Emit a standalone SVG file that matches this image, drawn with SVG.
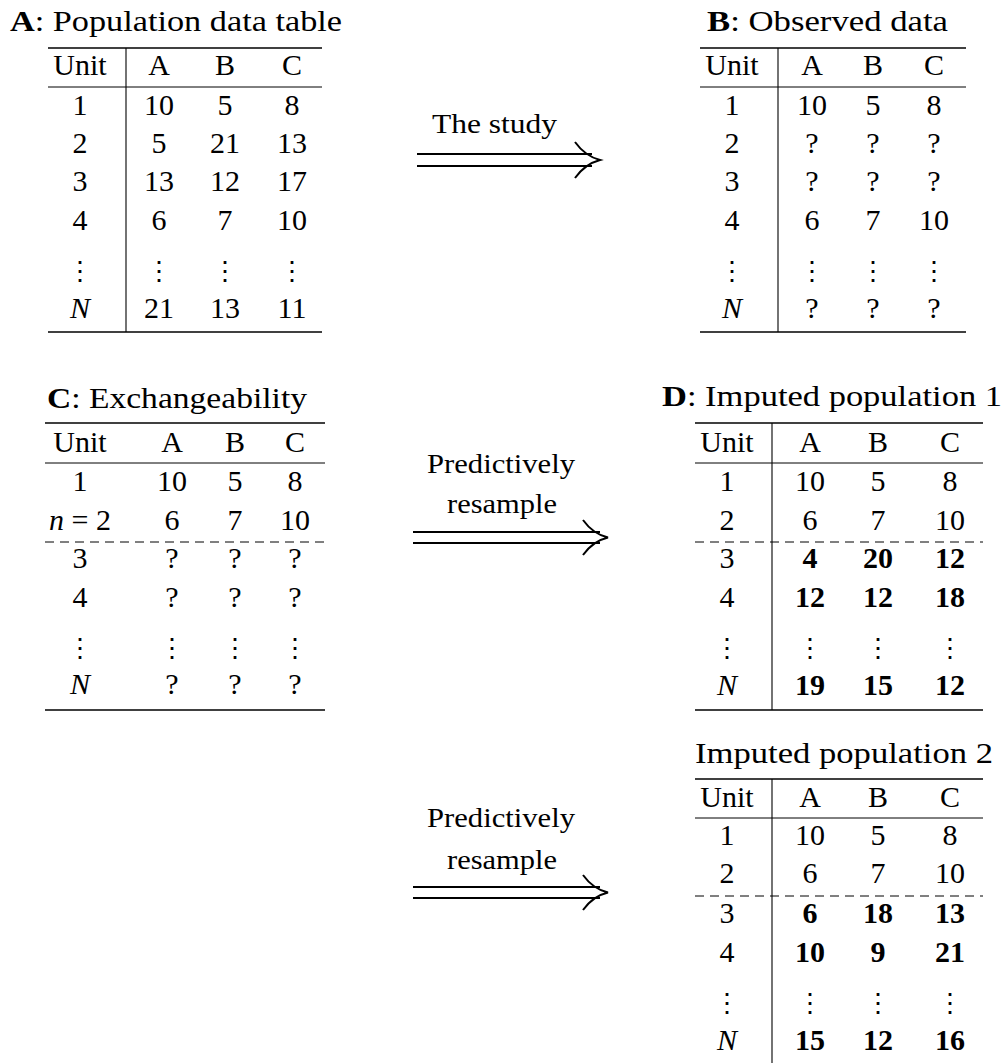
<svg xmlns="http://www.w3.org/2000/svg" width="1007" height="1063" viewBox="0 0 1007 1063">
<style>
text{font-family:"Liberation Serif","Times New Roman",serif;font-size:30px;fill:#000}
.c{text-anchor:middle}
.b{font-weight:bold}
.i{font-style:italic}
.lab{font-size:28px}
.dots{font-family:"DejaVu Serif",serif;font-size:26px}
.rule{stroke:#000;stroke-width:1.4;fill:none}
.mid{stroke:#000;stroke-width:1;fill:none}
.vl{stroke:#000;stroke-width:1.1;fill:none}
.dash{stroke:#000;stroke-width:1;stroke-dasharray:9 6;fill:none}
.arr{stroke:#000;stroke-width:2;fill:none}
</style>
<rect width="1007" height="1063" fill="#fff"/>

<g id="tableA">
<text x="10" y="31" textLength="332" lengthAdjust="spacingAndGlyphs"><tspan class="b">A</tspan>: Population data table</text>
<line class="rule" x1="48" y1="48" x2="322" y2="48"/>
<line class="mid" x1="48" y1="87" x2="322" y2="87"/>
<line class="rule" x1="48" y1="332" x2="322" y2="332"/>
<line class="vl" x1="126" y1="48" x2="126" y2="332"/>
<g class="c">
<text x="80" y="75" class="c">Unit</text><text x="159" y="75" class="c">A</text><text x="225" y="75" class="c">B</text><text x="292" y="75" class="c">C</text>
<text x="80" y="115" class="c">1</text><text x="159" y="115" class="c">10</text><text x="225" y="115" class="c">5</text><text x="292" y="115" class="c">8</text>
<text x="80" y="153" class="c">2</text><text x="159" y="153" class="c">5</text><text x="225" y="153" class="c">21</text><text x="292" y="153" class="c">13</text>
<text x="80" y="191" class="c">3</text><text x="159" y="191" class="c">13</text><text x="225" y="191" class="c">12</text><text x="292" y="191" class="c">17</text>
<text x="80" y="230" class="c">4</text><text x="159" y="230" class="c">6</text><text x="225" y="230" class="c">7</text><text x="292" y="230" class="c">10</text>
<text x="80" y="280" class="c dots">⋮</text><text x="159" y="280" class="c dots">⋮</text><text x="225" y="280" class="c dots">⋮</text><text x="292" y="280" class="c dots">⋮</text>
<text x="80" y="318" class="c i">N</text><text x="159" y="318" class="c">21</text><text x="225" y="318" class="c">13</text><text x="292" y="318" class="c">11</text>
</g>
</g>

<g id="tableB">
<text x="707" y="31" textLength="241" lengthAdjust="spacingAndGlyphs"><tspan class="b">B</tspan>: Observed data</text>
<line class="rule" x1="700" y1="48" x2="966" y2="48"/>
<line class="mid" x1="700" y1="87" x2="966" y2="87"/>
<line class="rule" x1="700" y1="332" x2="966" y2="332"/>
<line class="vl" x1="778" y1="48" x2="778" y2="332"/>
<text x="732" y="75" class="c">Unit</text><text x="812" y="75" class="c">A</text><text x="873" y="75" class="c">B</text><text x="934" y="75" class="c">C</text>
<text x="732" y="115" class="c">1</text><text x="812" y="115" class="c">10</text><text x="873" y="115" class="c">5</text><text x="934" y="115" class="c">8</text>
<text x="732" y="153" class="c">2</text><text x="812" y="153" class="c">?</text><text x="873" y="153" class="c">?</text><text x="934" y="153" class="c">?</text>
<text x="732" y="191" class="c">3</text><text x="812" y="191" class="c">?</text><text x="873" y="191" class="c">?</text><text x="934" y="191" class="c">?</text>
<text x="732" y="230" class="c">4</text><text x="812" y="230" class="c">6</text><text x="873" y="230" class="c">7</text><text x="934" y="230" class="c">10</text>
<text x="732" y="280" class="c dots">⋮</text><text x="812" y="280" class="c dots">⋮</text><text x="873" y="280" class="c dots">⋮</text><text x="934" y="280" class="c dots">⋮</text>
<text x="732" y="318" class="c i">N</text><text x="812" y="318" class="c">?</text><text x="873" y="318" class="c">?</text><text x="934" y="318" class="c">?</text>
</g>

<g id="tableC">
<text x="47" y="408" textLength="260" lengthAdjust="spacingAndGlyphs"><tspan class="b">C</tspan>: Exchangeability</text>
<line class="rule" x1="45" y1="423" x2="325" y2="423"/>
<line class="mid" x1="45" y1="463" x2="325" y2="463"/>
<line class="dash" x1="45" y1="542" x2="325" y2="542"/>
<line class="rule" x1="45" y1="710" x2="325" y2="710"/>
<text x="80" y="452" class="c">Unit</text><text x="172" y="452" class="c">A</text><text x="235" y="452" class="c">B</text><text x="295" y="452" class="c">C</text>
<text x="80" y="491" class="c">1</text><text x="172" y="491" class="c">10</text><text x="235" y="491" class="c">5</text><text x="295" y="491" class="c">8</text>
<text x="80" y="530" class="c"><tspan class="i">n</tspan> = 2</text><text x="172" y="530" class="c">6</text><text x="235" y="530" class="c">7</text><text x="295" y="530" class="c">10</text>
<text x="80" y="568" class="c">3</text><text x="172" y="568" class="c">?</text><text x="235" y="568" class="c">?</text><text x="295" y="568" class="c">?</text>
<text x="80" y="607" class="c">4</text><text x="172" y="607" class="c">?</text><text x="235" y="607" class="c">?</text><text x="295" y="607" class="c">?</text>
<text x="80" y="657" class="c dots">⋮</text><text x="172" y="657" class="c dots">⋮</text><text x="235" y="657" class="c dots">⋮</text><text x="295" y="657" class="c dots">⋮</text>
<text x="80" y="694" class="c i">N</text><text x="172" y="694" class="c">?</text><text x="235" y="694" class="c">?</text><text x="295" y="694" class="c">?</text>
</g>

<g id="tableD">
<text x="662" y="406" textLength="340" lengthAdjust="spacingAndGlyphs"><tspan class="b">D</tspan>: Imputed population 1</text>
<line class="rule" x1="695" y1="423" x2="983" y2="423"/>
<line class="mid" x1="695" y1="463" x2="983" y2="463"/>
<line class="dash" x1="695" y1="542" x2="983" y2="542"/>
<line class="rule" x1="695" y1="710" x2="983" y2="710"/>
<line class="vl" x1="772" y1="423" x2="772" y2="710"/>
<text x="727" y="452" class="c">Unit</text><text x="810" y="452" class="c">A</text><text x="878" y="452" class="c">B</text><text x="950" y="452" class="c">C</text>
<text x="727" y="491" class="c">1</text><text x="810" y="491" class="c">10</text><text x="878" y="491" class="c">5</text><text x="950" y="491" class="c">8</text>
<text x="727" y="530" class="c">2</text><text x="810" y="530" class="c">6</text><text x="878" y="530" class="c">7</text><text x="950" y="530" class="c">10</text>
<text x="727" y="568" class="c">3</text><text x="810" y="568" class="c b">4</text><text x="878" y="568" class="c b">20</text><text x="950" y="568" class="c b">12</text>
<text x="727" y="607" class="c">4</text><text x="810" y="607" class="c b">12</text><text x="878" y="607" class="c b">12</text><text x="950" y="607" class="c b">18</text>
<text x="727" y="657" class="c dots">⋮</text><text x="810" y="657" class="c dots">⋮</text><text x="878" y="657" class="c dots">⋮</text><text x="950" y="657" class="c dots">⋮</text>
<text x="727" y="695" class="c i">N</text><text x="810" y="695" class="c b">19</text><text x="878" y="695" class="c b">15</text><text x="950" y="695" class="c b">12</text>
</g>

<g id="tableD2">
<text x="695" y="763" textLength="298" lengthAdjust="spacingAndGlyphs">Imputed population 2</text>
<line class="rule" x1="695" y1="779" x2="983" y2="779"/>
<line class="mid" x1="695" y1="818" x2="983" y2="818"/>
<line class="dash" x1="695" y1="896" x2="983" y2="896"/>
<line class="vl" x1="772" y1="779" x2="772" y2="1063"/>
<text x="727" y="807" class="c">Unit</text><text x="810" y="807" class="c">A</text><text x="878" y="807" class="c">B</text><text x="950" y="807" class="c">C</text>
<text x="727" y="845" class="c">1</text><text x="810" y="845" class="c">10</text><text x="878" y="845" class="c">5</text><text x="950" y="845" class="c">8</text>
<text x="727" y="883" class="c">2</text><text x="810" y="883" class="c">6</text><text x="878" y="883" class="c">7</text><text x="950" y="883" class="c">10</text>
<text x="727" y="923" class="c">3</text><text x="810" y="923" class="c b">6</text><text x="878" y="923" class="c b">18</text><text x="950" y="923" class="c b">13</text>
<text x="727" y="962" class="c">4</text><text x="810" y="962" class="c b">10</text><text x="878" y="962" class="c b">9</text><text x="950" y="962" class="c b">21</text>
<text x="727" y="1012" class="c dots">⋮</text><text x="810" y="1012" class="c dots">⋮</text><text x="878" y="1012" class="c dots">⋮</text><text x="950" y="1012" class="c dots">⋮</text>
<text x="727" y="1050" class="c i">N</text><text x="810" y="1050" class="c b">15</text><text x="878" y="1050" class="c b">12</text><text x="950" y="1050" class="c b">16</text>
</g>

<g id="connectors">
<g id="arrow1">
<text x="432" y="133" class="lab" textLength="125" lengthAdjust="spacingAndGlyphs">The study</text>
<line class="arr" x1="417" y1="154" x2="592" y2="154"/>
<line class="arr" x1="417" y1="166" x2="592" y2="166"/>
<path class="arr" d="M575 142 Q585 156 600 160 Q585 164 575 178"/>
</g>
<g id="arrow2">
<text x="427" y="473" class="lab" textLength="148" lengthAdjust="spacingAndGlyphs">Predictively</text>
<text x="447" y="513" class="lab" textLength="110" lengthAdjust="spacingAndGlyphs">resample</text>
<line class="arr" x1="413" y1="532" x2="600" y2="532"/>
<line class="arr" x1="413" y1="543" x2="600" y2="543"/>
<path class="arr" d="M583 520 Q593 534 608 537.5 Q593 541 583 555"/>
</g>
<g id="arrow3">
<text x="427" y="827" class="lab" textLength="148" lengthAdjust="spacingAndGlyphs">Predictively</text>
<text x="447" y="869" class="lab" textLength="110" lengthAdjust="spacingAndGlyphs">resample</text>
<line class="arr" x1="413" y1="887" x2="600" y2="887"/>
<line class="arr" x1="413" y1="898" x2="600" y2="898"/>
<path class="arr" d="M583 875 Q593 889 608 892.5 Q593 896 583 910"/>
</g>
</g>
</svg>
